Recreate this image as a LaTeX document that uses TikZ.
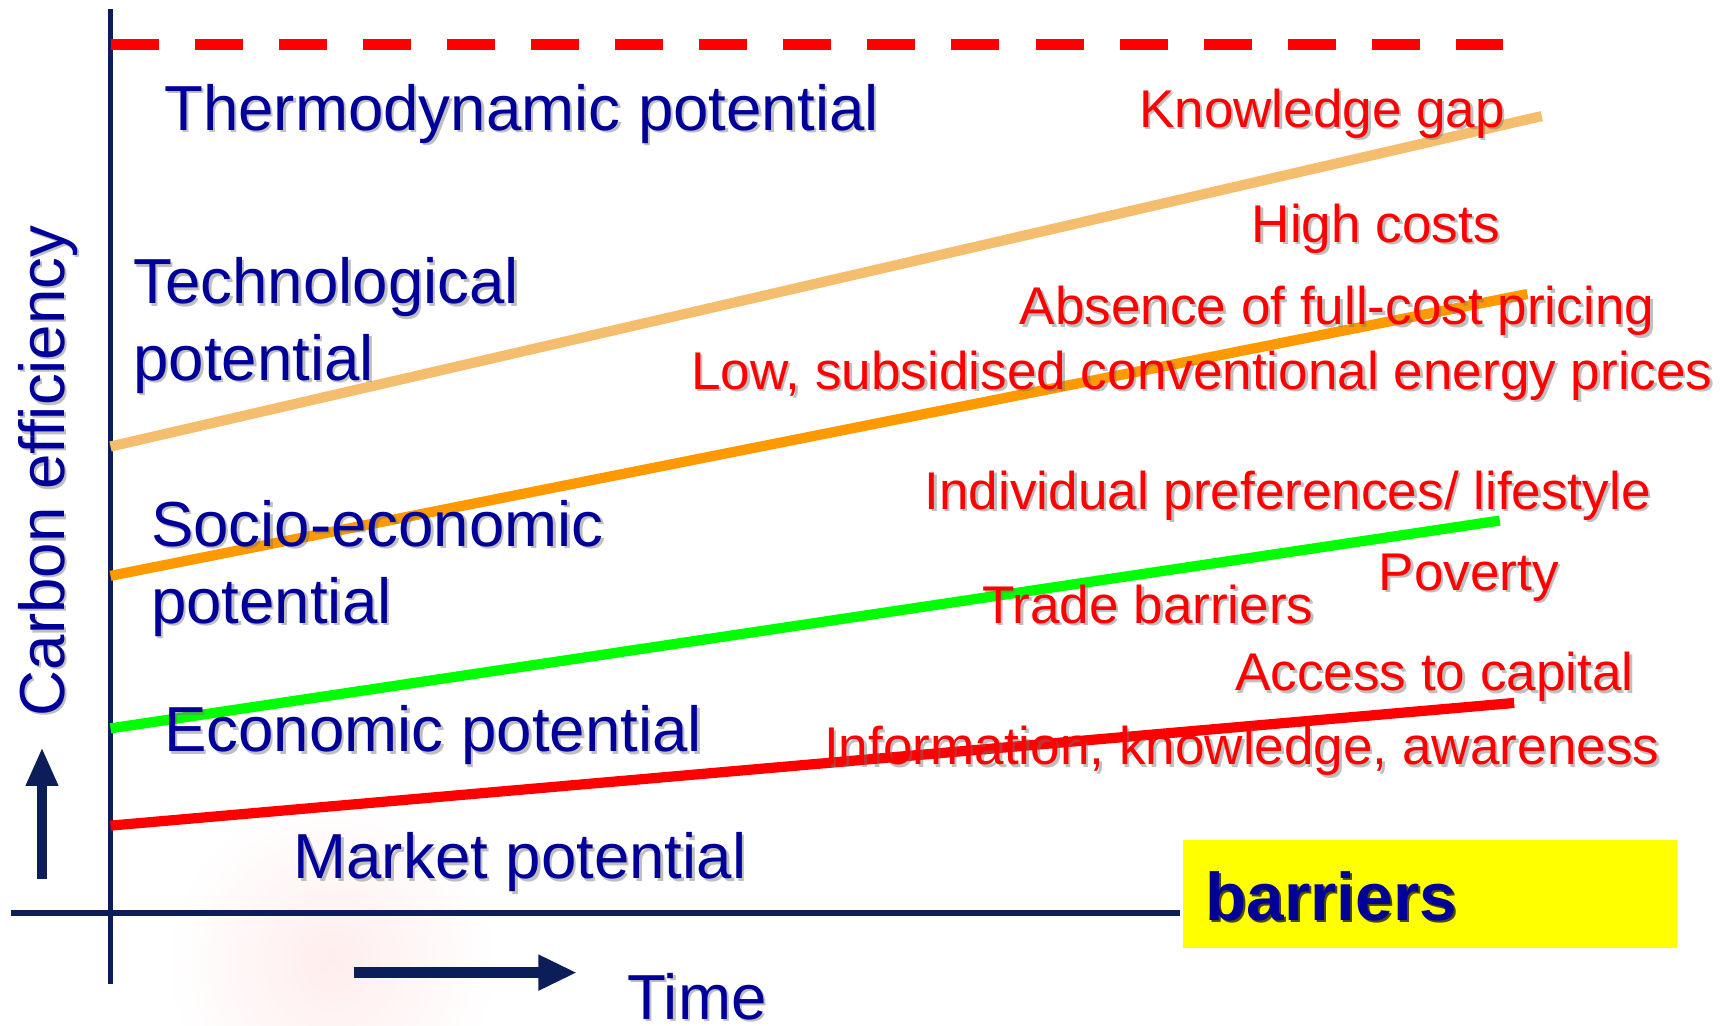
\documentclass[tikz,border=0pt]{standalone}
\usepackage{fontspec}
\setmainfont{Liberation Sans}
\usetikzlibrary{calc,arrows.meta}

\definecolor{axisnavy}{RGB}{12,30,90}
\definecolor{labelblue}{RGB}{0,0,153}
\definecolor{barred}{RGB}{255,0,0}
\definecolor{paleorange}{RGB}{244,190,110}
\definecolor{deeporange}{RGB}{255,153,0}
\definecolor{brightgreen}{RGB}{0,255,0}
\definecolor{boxyellow}{RGB}{255,255,0}

\tikzset{
  axisline/.style={draw=axisnavy, line width=1.6pt},
  trend/.style={line width=2.9pt},
  potlabel/.style={text=labelblue, font=\fontsize{18.1}{21}\selectfont, anchor=base west, inner sep=0pt},
  barlabel/.style={text=barred, font=\fontsize{15.1}{18}\selectfont, anchor=base west, inner sep=0pt},
  shadowcopy/.style={text=black!55, text opacity=0.45},
}

% text with a soft drop shadow: style, name, position, text
\newcommand\shadowedtext[4]{%
  \node[#1, shadowcopy] at ($#3+(2.2,2.2)$) {#4};
  \node[#1] (#2) at #3 {#4};}

\begin{document}
\begin{tikzpicture}[x=0.011052cm, y=-0.011052cm]
\useasboundingbox (0,0) rectangle (1568,928);
\fill[white] (0,0) rectangle (1568,928);

% faint watermark behind the axes
\shade[inner color=red!7, outer color=white] (300,870) ellipse [x radius=150, y radius=150];

% axes
\coordinate (ytop) at (100,8);
\coordinate (ybot) at (100,890);
\coordinate (xleft) at (10,826);
\coordinate (xright) at (1068,826);
\draw[axisline] (ytop) -- (ybot);
\draw[axisline] (xleft) -- (xright);

% thermodynamic limit: 17 dashes
\coordinate (th0) at (100.5,40);
\coordinate (th1) at (1360,40);
\draw[barred, line width=3.1pt, dash pattern=on 13.65pt off 10.25pt] (th0) -- (th1);

% potential trend lines
\coordinate (tech0) at (100,404);  \coordinate (tech1) at (1395,105);
\coordinate (soc0) at (100,521);   \coordinate (soc1) at (1382,266);
\coordinate (eco0) at (100,659);   \coordinate (eco1) at (1357,471);
\coordinate (mkt0) at (100,747);   \coordinate (mkt1) at (1370,636);
\draw[trend, paleorange] (tech0) -- (tech1);
\draw[trend, deeporange] (soc0) -- (soc1);
\draw[trend, brightgreen] (eco0) -- (eco1);
\draw[trend, barred] (mkt0) -- (mkt1);

% direction arrows
\coordinate (up0) at (38,795);  \coordinate (up1) at (38,676);
\draw[axisnavy, line width=3pt, -{Triangle[width=8.5pt,length=11pt]}] (up0) -- (up1);
\coordinate (rt0) at (320,880); \coordinate (rt1) at (522,880);
\draw[axisnavy, line width=3pt, -{Triangle[width=9.5pt,length=11pt]}] (rt0) -- (rt1);

% potentials
\shadowedtext{potlabel}{thermo}{(148,118)}{Thermodynamic potential}
\shadowedtext{potlabel}{techA}{(120,275)}{Technological}
\shadowedtext{potlabel}{techB}{(120,344)}{potential}
\shadowedtext{potlabel}{socA}{(136,494)}{Socio-economic}
\shadowedtext{potlabel}{socB}{(136,564)}{potential}
\shadowedtext{potlabel}{econ}{(148,680)}{Economic potential}
\shadowedtext{potlabel}{market}{(265,795)}{Market potential}
\shadowedtext{potlabel, text depth=0pt}{time}{(567,922)}{Time}
\node[potlabel, shadowcopy, rotate=90, anchor=base] at (60,428) {Carbon efficiency};
\node[potlabel, rotate=90, anchor=base] (ylabel) at (58,426) {Carbon efficiency};

% barriers
\shadowedtext{barlabel}{gap}{(1030,115)}{Knowledge gap}
\shadowedtext{barlabel}{costs}{(1132,219)}{High costs}
\shadowedtext{barlabel}{fullcost}{(922,294)}{Absence of full-cost pricing}
\shadowedtext{barlabel}{subsid}{(625,352)}{Low, subsidised conventional energy prices}
\shadowedtext{barlabel}{prefs}{(836,461)}{Individual preferences/ lifestyle}
\shadowedtext{barlabel}{poverty}{(1247,534)}{Poverty}
\shadowedtext{barlabel}{trade}{(888,564)}{Trade barriers}
\shadowedtext{barlabel}{capital}{(1117,625)}{Access to capital}
\shadowedtext{barlabel}{info}{(745,692)}{Information, knowledge, awareness}

% legend box
\coordinate (boxA) at (1070,760);
\coordinate (boxB) at (1517,858);
\fill[boxyellow] (boxA) rectangle (boxB);
\node[potlabel, font=\fontsize{19.2}{22}\bfseries\selectfont, text=black, text opacity=0.7] at (1092,835) {barriers};
\node[potlabel, font=\fontsize{19.2}{22}\bfseries\selectfont] (barriers) at (1090,833) {barriers};
\end{tikzpicture}
\end{document}
